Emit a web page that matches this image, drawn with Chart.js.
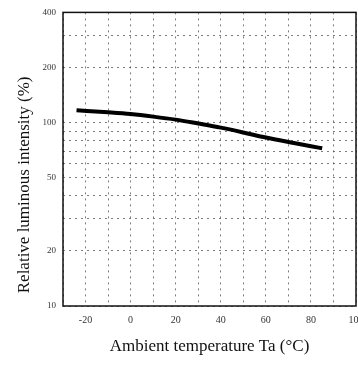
<!DOCTYPE html>
<html>
<head>
<meta charset="utf-8">
<script src="https://cdn.jsdelivr.net/npm/chart.js@4/dist/chart.umd.min.js"></script>
<style>
  html, body { margin: 0; padding: 0; background: #fff; }
  #wrap { width: 358px; height: 367px; }
</style>
</head>
<body>
<div id="wrap"><canvas id="tempChart"></canvas></div>
<script>
// Relative luminous intensity vs ambient temperature (log scale)
const temperatures = [-24, -10, 0, 10, 20, 30, 40, 50, 60, 70, 80, 85];
const intensity = [117, 114, 111.5, 108, 104, 99, 94, 88.5, 83, 78.5, 74.5, 72.5];

const xLabelTicks = [-20, 0, 20, 40, 60, 80, 100];
const yGridTicks = [10, 20, 30, 40, 50, 60, 70, 80, 90, 100, 200, 300, 400];
const yLabelTicks = [10, 20, 50, 100, 200, 400];

const serif = "'Liberation Serif', 'DejaVu Serif', serif";
const gridColor = 'rgba(70, 70, 70, 0.7)';

// solid frame around the plot area
const frame = {
    id: 'frame',
    afterDraw(chart) {
        const { ctx, chartArea: a } = chart;
        ctx.save();
        ctx.strokeStyle = '#111';
        ctx.lineWidth = 1.5;
        ctx.strokeRect(a.left, a.top, a.right - a.left, a.bottom - a.top);
        ctx.restore();
    }
};

const ctx = document.getElementById('tempChart').getContext('2d');
new Chart(ctx, {
    type: 'line',
    data: {
        datasets: [{
            data: temperatures.map((t, i) => ({ x: t, y: intensity[i] })),
            borderColor: '#000',
            borderWidth: 4,
            pointRadius: 0,
            cubicInterpolationMode: 'monotone',
            fill: false
        }]
    },
    options: {
        responsive: true,
        maintainAspectRatio: false,
        animation: false,
        layout: { padding: { top: 12, right: 2, left: 0, bottom: 0 } },
        plugins: { legend: { display: false }, tooltip: { enabled: false } },
        scales: {
            x: {
                type: 'linear',
                min: -30,
                max: 100,
                afterBuildTicks: s => { s.ticks = []; for (let v = -30; v <= 100; v += 10) s.ticks.push({ value: v }); },
                afterFit: s => { s.height = 61; s.paddingRight = 0; s.paddingLeft = 0; },
                grid: { color: gridColor, lineWidth: 1, drawTicks: false },
                border: { display: false, dash: [2, 4] },
                ticks: {
                    color: '#333',
                    padding: 8,
                    maxRotation: 0,
                    autoSkip: false,
                    font: { family: serif, size: 10 },
                    callback: v => xLabelTicks.includes(v) ? String(v) : ''
                },
                title: {
                    display: true,
                    text: 'Ambient temperature Ta (°C)',
                    color: '#111',
                    font: { family: serif, size: 17 },
                    padding: { top: 2, bottom: 10 }
                }
            },
            y: {
                type: 'logarithmic',
                min: 10,
                max: 400,
                afterBuildTicks: s => { s.ticks = yGridTicks.map(v => ({ value: v })); },
                afterFit: s => { s.width = 63; },
                grid: { color: gridColor, lineWidth: 1, drawTicks: false },
                border: { display: false, dash: [2, 4] },
                ticks: {
                    color: '#333',
                    padding: 7,
                    autoSkip: false,
                    font: { family: serif, size: 9 },
                    callback: v => yLabelTicks.includes(v) ? String(v) : ''
                },
                title: {
                    display: true,
                    align: 'start',
                    text: '   Relative luminous intensity (%)',
                    color: '#111',
                    font: { family: serif, size: 17 },
                    padding: { top: 14, bottom: 0 }
                }
            }
        }
    },
    plugins: [frame]
});
</script>
</body>
</html>
